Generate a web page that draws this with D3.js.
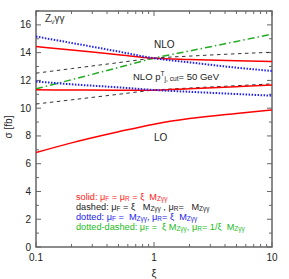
<!DOCTYPE html>
<html><head><meta charset="utf-8">
<script src="https://cdn.jsdelivr.net/npm/d3@7"></script>
<style>body{margin:0;background:#fff}svg{display:block}text{font-family:"Liberation Sans",Arial,sans-serif;white-space:pre}</style>
</head><body><svg id="c" width="289" height="279"></svg>
<script>
const xs = [0.1, 0.2, 0.5, 1, 2, 5, 10];
const nloSolid   = [14.44, 14.19, 13.85, 13.6, 13.5, 13.41, 13.36];
const nloDashed  = [12.52, 12.85, 13.28, 13.6, 13.75, 13.92, 14.03];
const nloDotted  = [15.16, 14.7, 14.08, 13.6, 13.3, 12.92, 12.68];
const nloDotDash = [11.39, 12.05, 12.93, 13.6, 14.12, 14.81, 15.33];
const cutSolid   = [11.32, 11.31, 11.3, 11.3, 11.4, 11.55, 11.67];
const cutDashed  = [10.3, 10.6, 11.0, 11.3, 11.45, 11.62, 11.75];
const cutDotted  = [11.92, 11.72, 11.5, 11.31, 11.18, 11.02, 10.9];
const loSolid    = [6.8, 7.5, 8.3, 8.85, 9.25, 9.62, 9.87];
const xTicks = [0.1, 1, 10];
const xTickLabels = ["0.1", "1", "10"];
const yTicks = [0, 2, 4, 6, 8, 10, 12, 14, 16];

const svg = d3.select("#c");
const L = 36, R = 272, T = 11, B = 247;
const x = d3.scaleLog().domain([0.1, 10]).range([L, R]);
const y = d3.scaleLinear().domain([0, 17]).range([B, T]);

const axisCol = "#666";
const xMinor = [];
[0.1, 1].forEach(d => { for (let k = 2; k <= 9; k++) xMinor.push(d * k); });
const yMinor = d3.range(0, 18, 1).filter(v => v % 2 !== 0);

const g = svg.append("g");
function tick(x1, y1, x2, y2) {
  g.append("line").attr("x1", x1).attr("y1", y1).attr("x2", x2).attr("y2", y2)
    .attr("stroke", axisCol).attr("stroke-width", 1);
}
xTicks.forEach(v => { const px = x(v); tick(px, B, px, B - 5); tick(px, T, px, T + 5); });
xMinor.forEach(v => { const px = x(v); tick(px, B, px, B - 3); tick(px, T, px, T + 3); });
yTicks.forEach(v => { const py = y(v); tick(L, py, L + 5, py); tick(R, py, R - 5, py); });
yMinor.forEach(v => { const py = y(v); tick(L, py, L + 3, py); tick(R, py, R - 3, py); });

svg.append("rect").attr("x", L).attr("y", T).attr("width", R - L).attr("height", B - T)
  .attr("fill", "none").attr("stroke", axisCol).attr("stroke-width", 1.5);

svg.selectAll(".yl").data(yTicks).enter().append("text")
  .attr("x", L - 5).attr("y", d => y(d) + 3.5).attr("text-anchor", "end")
  .attr("font-size", 10).attr("fill", "#222").text(d => d);
svg.selectAll(".xl").data(xTicks).enter().append("text")
  .attr("x", d => x(d)).attr("y", 261).attr("text-anchor", "middle")
  .attr("font-size", 10).attr("fill", "#222").text((d, i) => xTickLabels[i]);

svg.append("text").attr("x", x(1)).attr("y", 277).attr("text-anchor", "middle")
  .attr("font-size", 11).attr("fill", "#222").text("ξ");
svg.append("text").attr("transform", "translate(12,127) rotate(-90)").attr("text-anchor", "middle")
  .attr("font-size", 10).attr("fill", "#222").text("σ [fb]");

const line = d3.line().x((d, i) => x(xs[i])).y(d => y(d)).curve(d3.curveMonotoneX);
svg.append("clipPath").attr("id", "pc").append("rect")
  .attr("x", L).attr("y", T).attr("width", R - L).attr("height", B - T);
const curves = [
  { v: nloDashed, c: "#333", w: 1, dash: "3.5,3.5" },
  { v: cutDashed, c: "#333", w: 1, dash: "3.5,3.5" },
  { v: nloDotDash, c: "#22aa22", w: 1.5, dash: "7,3,1.5,3" },
  { v: nloSolid, c: "#ff0000", w: 1.5, dash: null },
  { v: cutSolid, c: "#ff0000", w: 1.5, dash: null },
  { v: loSolid, c: "#ff0000", w: 1.5, dash: null },
  { v: nloDotted, c: "#2222ee", w: 2, dash: "1.5,1.5" },
  { v: cutDotted, c: "#2222ee", w: 2, dash: "1.5,1.5" }
];
curves.forEach(cv => {
  svg.append("path").attr("d", line(cv.v)).attr("fill", "none")
    .attr("stroke", cv.c).attr("stroke-width", cv.w)
    .attr("stroke-dasharray", cv.dash).attr("clip-path", "url(#pc)");
});

function rich(xp, yp, size, color, parts) {
  const t = svg.append("text").attr("x", xp).attr("y", yp).attr("font-size", size).attr("fill", color);
  let prevOff = 0;
  parts.forEach(([s, k]) => {
    const off = k === "s" ? size * 0.15 : k === "p" ? -size * 0.4 : 0;
    const ts = t.append("tspan").text(s);
    if (off - prevOff) ts.attr("dy", off - prevOff);
    if (k !== "n") ts.attr("font-size", size * 0.7);
    prevOff = off;
  });
  return t;
}
rich(45, 22, 10, "#333", [["Z", "n"], ["ν", "s"], ["γγ", "n"]]);
rich(154, 48, 10, "#222", [["NLO", "n"]]);
rich(133, 79.5, 9.5, "#222", [["NLO p", "n"], ["T", "p"], ["j, cut", "s"], ["= 50 GeV", "n"]]);
rich(154, 141, 10, "#222", [["LO", "n"]]);

rich(76, 200, 9.2, "#ff2020", [["solid: μ", "n"], ["F", "s"], [" = μ", "n"], ["R", "s"], [" = ξ  M", "n"], ["Zγγ", "s"]]);
rich(76, 210, 9.2, "#222", [["dashed: μ", "n"], ["F", "s"], [" = ξ   M", "n"], ["Zγγ", "s"], [" , μ", "n"], ["R", "s"], ["=   M", "n"], ["Zγγ", "s"]]);
rich(76, 220, 9.2, "#2222ee", [["dotted: μ", "n"], ["F", "s"], [" =  M", "n"], ["Zγγ", "s"], [", μ", "n"], ["R", "s"], ["= ξ  M", "n"], ["Zγγ", "s"]]);
rich(76, 230, 9.2, "#22bb22", [["dotted-dashed: μ", "n"], ["F", "s"], [" =  ξ M", "n"], ["Zγγ", "s"], [", μ", "n"], ["R", "s"], ["= 1/ξ  M", "n"], ["Zγγ", "s"]]);
</script></body></html>
